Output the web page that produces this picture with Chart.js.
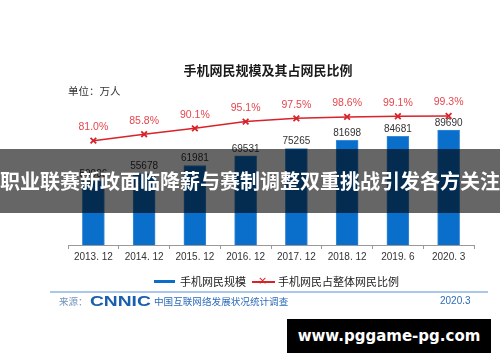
<!DOCTYPE html>
<html>
<head>
<meta charset="utf-8">
<script src="https://cdn.jsdelivr.net/npm/chart.js@4/dist/chart.umd.min.js"></script>
<style>
  body { margin: 0; background: #fff; }
  #wrap { position: relative; width: 500px; height: 362px; overflow: hidden; font-family: "Noto Sans CJK SC", "Liberation Sans", sans-serif; }
  #myChart { position: absolute; left: 0; top: 0; }
  .abs { position: absolute; white-space: nowrap; }
  #title { left: 0; width: 536px; top: 61px; text-align: center; font-size: 13px; font-weight: bold; color: #1a1a1a; line-height: 18px; }
  #unit { left: 68px; top: 83px; font-size: 10.5px; color: #333; line-height: 16px; }
  .lg-line { position: absolute; height: 3px; }
  .lg-text { font-size: 11px; color: #222; line-height: 16px; top: 273px; }
  #rule { left: 50px; top: 291px; width: 438px; height: 2px; background: #a9c8ec; }
  #src { left: 59px; top: 294px; font-size: 9.5px; color: #6f93bd; line-height: 14px; }
  #logo { left: 90px; top: 292px; font-family: "Liberation Sans", sans-serif; font-weight: bold; font-size: 15px; color: #1a5fae; transform: scaleX(1.28); transform-origin: left center; line-height: 18px; }
  #survey { left: 154px; top: 294px; font-size: 9.6px; color: #2d6cb9; line-height: 14px; }
  #date { left: 440px; top: 294px; font-family: "Liberation Sans", sans-serif; font-size: 10px; color: #2d6cb9; line-height: 14px; }
  #banner { left: 0; top: 149px; width: 500px; height: 64px; background: rgba(0,0,0,0.6); color: #fff; font-size: 20px; font-weight: bold; text-align: center; line-height: 64px; }
  #mark { left: 287px; top: 319px; width: 204px; height: 34px; background: #000; color: #fff; font-family: "DejaVu Sans", sans-serif; font-weight: bold; font-size: 15px; text-align: center; line-height: 34px; }
</style>
</head>
<body>
<div id="wrap">
  <canvas id="myChart" width="500" height="362"></canvas>
  <div class="abs" id="title">手机网民规模及其占网民比例</div>
  <div class="abs" id="unit">单位：万人</div>
  <div class="lg-line" style="left:154px; top:280px; width:21px; background:#0a6fca;"></div>
  <div class="abs lg-text" style="left:180px;">手机网民规模</div>
  <div class="lg-line" style="left:252px; top:281px; width:23px; height:1.5px; background:#d9222a;"></div>
  <div class="abs" style="left:258px; top:273px; font-size:11px; color:#d9222a; line-height:16px; font-family:'DejaVu Sans',sans-serif;">×</div>
  <div class="abs lg-text" style="left:278px;">手机网民占整体网民比例</div>
  <div class="abs" id="rule"></div>
  <div class="abs" id="src">来源：</div>
  <div class="abs" id="logo">CNNIC</div>
  <div class="abs" id="survey">中国互联网络发展状况统计调查</div>
  <div class="abs" id="date">2020.3</div>
  <div class="abs" id="banner">职业联赛新政面临降薪与赛制调整双重挑战引发各方关注</div>
  <div class="abs" id="mark">www.pggame-pg.com</div>
</div>
<script>
// 数据
const periods = ['2013. 12', '2014. 12', '2015. 12', '2016. 12', '2017. 12', '2018. 12', '2019. 6', '2020. 3'];
const mobileUsers = [50006, 55678, 61981, 69531, 75265, 81698, 84681, 89690]; // 万人
const mobileShare = [81.0, 85.8, 90.1, 95.1, 97.5, 98.6, 99.1, 99.3]; // %

// value labels above bars and points
const valueLabels = {
    id: 'valueLabels',
    afterDatasetsDraw(chart) {
        const ctx = chart.ctx;
        ctx.save();
        ctx.textAlign = 'center';
        ctx.textBaseline = 'middle';
        const bars = chart.getDatasetMeta(1).data;
        ctx.font = '10px "Liberation Sans", Arial, sans-serif';
        ctx.fillStyle = '#333';
        bars.forEach((b, i) => {
            ctx.fillText(String(mobileUsers[i]), b.x, b.y - 7);
        });
        const pts = chart.getDatasetMeta(0).data;
        ctx.font = '10.5px "Liberation Sans", Arial, sans-serif';
        ctx.fillStyle = '#e5464e';
        pts.forEach((p, i) => {
            ctx.fillText(mobileShare[i].toFixed(1) + '%', p.x, p.y - 13.5);
        });
        ctx.restore();
    }
};

var ctx = document.getElementById('myChart');
var chart = new Chart(ctx, {
    type: 'bar',
    data: {
        labels: periods,
        datasets: [
            {
                type: 'line',
                label: '手机网民占整体网民比例',
                data: mobileShare,
                yAxisID: 'y1',
                borderColor: '#d9222a',
                borderWidth: 1.5,
                pointStyle: 'crossRot',
                pointRadius: 4,
                pointBorderWidth: 1.8,
                pointBorderColor: '#d9222a',
                tension: 0,
                fill: false,
                order: 0,
            },
            {
                label: '手机网民规模',
                data: mobileUsers,
                yAxisID: 'y',
                backgroundColor: '#0a6fca',
                borderColor: '#3a8ad6',
                borderWidth: 1,
                barThickness: 22,
                order: 1,
            },
        ],
    },
    options: {
        responsive: false,
        animation: false,
        layout: { padding: { left: 68, right: 26, top: 105, bottom: 0 } },
        scales: {
            x: {
                afterFit: (s) => { s.height = 117; },
                grid: { display: true, drawOnChartArea: false, color: '#999', tickLength: 4, offset: true },
                border: { color: '#999', width: 1 },
                ticks: { color: '#333', font: { size: 10, family: '"Liberation Sans", Arial, sans-serif' }, padding: 2, maxRotation: 0, autoSkip: false },
            },
            y: { display: false, min: 0, max: 109200 },
            y1: { display: false, min: 3.7, max: 107.4 },
        },
        plugins: {
            legend: { display: false },
            title: { display: false },
            tooltip: { enabled: false },
        },
    },
    plugins: [valueLabels],
});
</script>
</body>
</html>
